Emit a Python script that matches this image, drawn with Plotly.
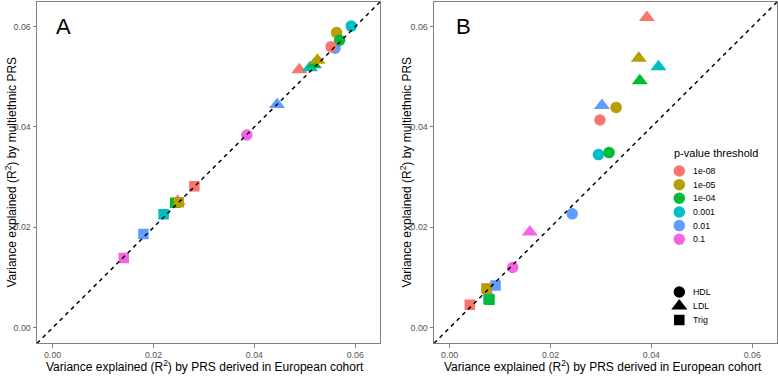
import plotly.graph_objects as go

# ---------------- data ----------------
thresholds = ["1e-08", "1e-05", "1e-04", "0.001", "0.01", "0.1"]
threshold_colors = ["#F8766D", "#B79F00", "#00BA38", "#00BFC4", "#619CFF", "#F564E3"]
traits = ["HDL", "LDL", "Trig"]
trait_symbols = ["circle", "triangle-up", "square"]

tick_values = [0.0, 0.02, 0.04, 0.06]
tick_labels = ["0.00", "0.02", "0.04", "0.06"]

# Panel A (row order = drawing order)
a_trait = ["HDL"] * 6 + ["LDL"] * 6 + ["Trig"] * 6
a_threshold = ["0.01", "0.1", "0.001", "1e-05", "1e-04", "1e-08",
               "0.1", "0.01", "1e-08", "0.001", "1e-04", "1e-05",
               "0.1", "0.01", "0.001", "1e-04", "1e-05", "1e-08"]
a_european = [0.0560, 0.0385, 0.0592, 0.0563, 0.0569, 0.0552,
              0.0248, 0.0445, 0.0489, 0.0510, 0.0518, 0.0525,
              0.0141, 0.0180, 0.0220, 0.0243, 0.0250, 0.0281]
a_multiethnic = [0.0557, 0.0384, 0.0601, 0.0588, 0.0573, 0.0560,
                 0.0252, 0.0445, 0.0514, 0.0518, 0.0524, 0.0533,
                 0.0139, 0.0187, 0.0226, 0.0249, 0.0250, 0.0282]

# Panel B
b_trait = ["HDL"] * 6 + ["LDL"] * 6 + ["Trig"] * 6
b_threshold = ["1e-08", "1e-05", "0.001", "1e-04", "0.01", "0.1",
               "1e-08", "1e-05", "1e-04", "0.001", "0.01", "0.1",
               "0.1", "0.001", "1e-08", "1e-04", "0.01", "1e-05"]
b_european = [0.0298, 0.0330, 0.0295, 0.0316, 0.0243, 0.0125,
              0.0391, 0.0375, 0.0377, 0.0414, 0.0302, 0.0159,
              0.0074, 0.0077, 0.0040, 0.0079, 0.0091, 0.0073]
b_multiethnic = [0.0414, 0.0439, 0.0345, 0.0349, 0.0227, 0.0120,
                 0.0618, 0.0537, 0.0492, 0.0520, 0.0443, 0.0191,
                 0.0077, 0.0058, 0.0046, 0.0056, 0.0084, 0.0078]

axis_range = [-0.0031, 0.0649]

# ---------------- styling ----------------
FONT = "Liberation Sans, Arial, Helvetica, sans-serif"
W, H = 778, 376
color_map = dict(zip(thresholds, threshold_colors))
symbol_map = dict(zip(traits, trait_symbols))
size_map = {"HDL": 11.5, "LDL": 14, "Trig": 10.5}

fig = go.Figure()

panels = [
    (a_european, a_multiethnic, a_trait, a_threshold, "x", "y"),
    (b_european, b_multiethnic, b_trait, b_threshold, "x2", "y2"),
]
for xs, ys, tr, th, xa, ya in panels:
    fig.add_trace(go.Scatter(
        x=xs, y=ys, mode="markers", xaxis=xa, yaxis=ya,
        marker=dict(color=[color_map[t] for t in th],
                    symbol=[symbol_map[t] for t in tr],
                    size=[size_map[t] for t in tr],
                    opacity=1, line=dict(width=0)),
        showlegend=False, hoverinfo="skip"))
    # identity line y = x across the axis range
    fig.add_trace(go.Scatter(
        x=axis_range, y=axis_range, mode="lines", xaxis=xa, yaxis=ya,
        line=dict(color="black", width=1.5, dash="4px,4px"),
        showlegend=False, hoverinfo="skip"))

# ---------------- manual legend (pixel overlay axis) ----------------
leg_x = 679.3
col_y0, col_dy = 171.0, 13.65
shp_y0, shp_dy = 292.0, 14.0
fig.add_trace(go.Scatter(
    x=[leg_x] * len(thresholds),
    y=[col_y0 + i * col_dy for i in range(len(thresholds))],
    mode="markers", xaxis="x3", yaxis="y3",
    marker=dict(color=threshold_colors, symbol="circle", size=11.5,
                opacity=1, line=dict(width=0)),
    showlegend=False, hoverinfo="skip"))
fig.add_trace(go.Scatter(
    x=[leg_x] * len(traits),
    y=[shp_y0 + i * shp_dy for i in range(len(traits))],
    mode="markers", xaxis="x3", yaxis="y3",
    marker=dict(color="black", symbol=trait_symbols,
                size=[size_map[t] for t in traits], opacity=1, line=dict(width=0)),
    showlegend=False, hoverinfo="skip"))

annotations = []
annotations.append(dict(text="p-value threshold", x=671.5, y=153.3, xref="x3", yref="y3",
                        xanchor="left", yanchor="middle", showarrow=False,
                        font=dict(family=FONT, size=11, color="black")))
for i, lab in enumerate(thresholds):
    annotations.append(dict(text=lab, x=691, y=col_y0 + i * col_dy, xref="x3", yref="y3",
                            xanchor="left", yanchor="middle", showarrow=False,
                            font=dict(family=FONT, size=8.8, color="black")))
for i, lab in enumerate(traits):
    annotations.append(dict(text=lab, x=691, y=shp_y0 + i * shp_dy, xref="x3", yref="y3",
                            xanchor="left", yanchor="middle", showarrow=False,
                            font=dict(family=FONT, size=8.8, color="black")))

# panel letters
annotations.append(dict(text="A", x=63.3, y=26.5, xref="x3", yref="y3", showarrow=False,
                        xanchor="center", yanchor="middle",
                        font=dict(family=FONT, size=22, color="black")))
annotations.append(dict(text="B", x=463, y=26.5, xref="x3", yref="y3", showarrow=False,
                        xanchor="center", yanchor="middle",
                        font=dict(family=FONT, size=22, color="black")))

xtitle = "Variance explained (R<sup>2</sup>) by PRS derived in European cohort"
ytitle = "Variance explained (R<sup>2</sup>) by multiethnic PRS"
for cx in (205, 603):
    annotations.append(dict(text=xtitle, x=cx, y=366, xref="x3", yref="y3", showarrow=False,
                            xanchor="center", yanchor="middle",
                            font=dict(family=FONT, size=12, color="black")))
for cx in (10, 405):
    annotations.append(dict(text=ytitle, x=cx, y=172.5, xref="x3", yref="y3", showarrow=False,
                            xanchor="center", yanchor="middle", textangle=-90,
                            font=dict(family=FONT, size=12, color="black")))

axis_common = dict(range=axis_range, showgrid=False, zeroline=False, showline=True,
                   linecolor="#7F7F7F", linewidth=1, mirror=True,
                   ticks="outside", ticklen=3.5, tickwidth=1, tickcolor="#7F7F7F",
                   tickvals=tick_values, ticktext=tick_labels,
                   tickfont=dict(family=FONT, size=8.8, color="#555555"),
                   automargin=False, fixedrange=True)

ydom = [1 - 343.3 / H, 1 - 2 / H]
fig.update_layout(
    width=W, height=H,
    margin=dict(l=0, r=0, t=0, b=0, pad=0),
    paper_bgcolor="white", plot_bgcolor="rgba(0,0,0,0)",
    showlegend=False,
    xaxis=dict(domain=[37 / W, 380 / W], anchor="y", **axis_common),
    yaxis=dict(domain=ydom, anchor="x", **axis_common),
    xaxis2=dict(domain=[434 / W, 777 / W], anchor="y2", **axis_common),
    yaxis2=dict(domain=ydom, anchor="x2", **axis_common),
    xaxis3=dict(domain=[0, 1], range=[0, W], anchor="y3", visible=False, fixedrange=True),
    yaxis3=dict(domain=[0, 1], range=[H, 0], anchor="x3", visible=False, fixedrange=True),
    annotations=annotations,
    font=dict(family=FONT),
)

fig.write_html("out.html",
               config={"displayModeBar": False, "staticPlot": True},
               post_script="document.body.style.margin='0px';document.body.style.overflow='hidden';")
